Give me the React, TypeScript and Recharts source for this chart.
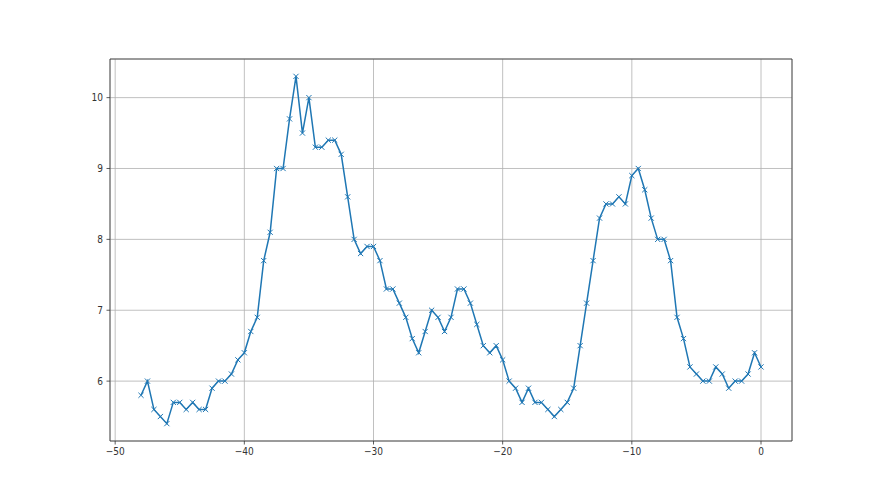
import React from 'react';
import { LineChart, Line, XAxis, YAxis, CartesianGrid, ReferenceArea } from 'recharts';

const xValues: number[] = [
  -48, -47.5, -47, -46.5, -46, -45.5, -45, -44.5, -44, -43.5, -43, -42.5, -42, -41.5, -41, -40.5,
  -40, -39.5, -39, -38.5, -38, -37.5, -37, -36.5, -36, -35.5, -35, -34.5, -34, -33.5, -33, -32.5,
  -32, -31.5, -31, -30.5, -30, -29.5, -29, -28.5, -28, -27.5, -27, -26.5, -26, -25.5, -25, -24.5,
  -24, -23.5, -23, -22.5, -22, -21.5, -21, -20.5, -20, -19.5, -19, -18.5, -18, -17.5, -17, -16.5,
  -16, -15.5, -15, -14.5, -14, -13.5, -13, -12.5, -12, -11.5, -11, -10.5, -10, -9.5, -9, -8.5,
  -8, -7.5, -7, -6.5, -6, -5.5, -5, -4.5, -4, -3.5, -3, -2.5, -2, -1.5, -1, -0.5, 0,
];

const yValues: number[] = [
  5.8, 6.0, 5.6, 5.5, 5.4, 5.7, 5.7, 5.6, 5.7, 5.6, 5.6, 5.9, 6.0, 6.0, 6.1, 6.3,
  6.4, 6.7, 6.9, 7.7, 8.1, 9.0, 9.0, 9.7, 10.3, 9.5, 10.0, 9.3, 9.3, 9.4, 9.4, 9.2,
  8.6, 8.0, 7.8, 7.9, 7.9, 7.7, 7.3, 7.3, 7.1, 6.9, 6.6, 6.4, 6.7, 7.0, 6.9, 6.7,
  6.9, 7.3, 7.3, 7.1, 6.8, 6.5, 6.4, 6.5, 6.3, 6.0, 5.9, 5.7, 5.9, 5.7, 5.7, 5.6,
  5.5, 5.6, 5.7, 5.9, 6.5, 7.1, 7.7, 8.3, 8.5, 8.5, 8.6, 8.5, 8.9, 9.0, 8.7, 8.3,
  8.0, 8.0, 7.7, 6.9, 6.6, 6.2, 6.1, 6.0, 6.0, 6.2, 6.1, 5.9, 6.0, 6.0, 6.1, 6.4, 6.2,
];

const xTicks: number[] = [-50, -40, -30, -20, -10, 0];
const yTicks: number[] = [6, 7, 8, 9, 10];

const data = xValues.map((x, i) => ({ x, y: yValues[i] }));

const X_DOMAIN: [number, number] = [-50.4, 2.4];
const Y_DOMAIN: [number, number] = [5.155, 10.545];

const fmt = (v: number) => String(v).replace('-', '\u2212');

const XMarker = (props: any) => {
  const { cx, cy, index } = props;
  if (cx == null || cy == null) return <g key={index} />;
  const s = 2.6;
  return (
    <path
      key={index}
      d={`M${cx - s},${cy - s}L${cx + s},${cy + s}M${cx - s},${cy + s}L${cx + s},${cy - s}`}
      stroke="#1f77b4"
      strokeWidth={1}
      fill="none"
    />
  );
};

const tickStyle = {
  fontFamily: "'DejaVu Sans Condensed', 'Liberation Sans Narrow', 'DejaVu Sans'",
  fontSize: 10,
  fill: '#333',
};

export default function App() {
  return (
    <div style={{ position: 'absolute', left: 0, top: 0, width: 880, height: 495, background: '#fff' }}>
      <LineChart
        width={880}
        height={495}
        data={data}
        margin={{ top: 59, right: 88, bottom: 24, left: 80 }}
      >
        <CartesianGrid stroke="#b0b0b0" strokeWidth={0.8} />
        <XAxis
          dataKey="x"
          type="number"
          domain={X_DOMAIN}
          ticks={xTicks}
          allowDataOverflow
          height={30}
          tickFormatter={fmt}
          tick={tickStyle}
          tickSize={3.5}
          tickMargin={3}
          axisLine={false}
          tickLine={{ stroke: '#333', strokeWidth: 0.8 }}
        />
        <YAxis
          type="number"
          domain={Y_DOMAIN}
          ticks={yTicks}
          allowDataOverflow
          width={30}
          tickFormatter={fmt}
          tick={tickStyle}
          tickSize={3.5}
          tickMargin={3.5}
          axisLine={false}
          tickLine={{ stroke: '#333', strokeWidth: 0.8 }}
        />
        <ReferenceArea
          x1={X_DOMAIN[0]}
          x2={X_DOMAIN[1]}
          y1={Y_DOMAIN[0]}
          y2={Y_DOMAIN[1]}
          fill="none"
          stroke="#333"
          strokeWidth={0.8}
          ifOverflow="visible"
        />
        <Line
          dataKey="y"
          stroke="#1f77b4"
          strokeWidth={1.5}
          dot={XMarker}
          activeDot={false}
          isAnimationActive={false}
        />
      </LineChart>
    </div>
  );
}
